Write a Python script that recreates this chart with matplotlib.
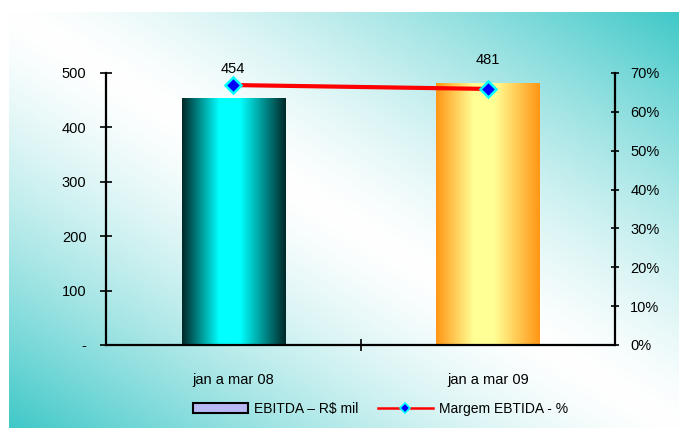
import numpy as np
import matplotlib.pyplot as plt
from matplotlib.patches import Patch
from matplotlib.lines import Line2D
from matplotlib.ticker import FuncFormatter

plt.rcParams['font.family'] = ['Liberation Sans', 'DejaVu Sans']

# data
periodos = ['jan a mar 08', 'jan a mar 09']
ebitda = [454, 481]            # R$ mil
margem = [66.9, 65.9]          # %

W, H = 679, 428
fig = plt.figure(figsize=(W / 100, H / 100), dpi=100, facecolor='white')

# diagonal gradient background (teal corners top-right / bottom-left)
bg = fig.add_axes([9 / W, 0, 1 - 9 / W, 1 - 12 / H], zorder=-5)
u, v = np.meshgrid(np.linspace(0, 1, 400), np.linspace(0, 1, 300))
d = np.clip(np.abs(u - v), 0, 1) ** 1.4
teal = np.array([64, 200, 200]) / 255.0
img = 1 - d[..., None] * (1 - teal)
bg.imshow(img, aspect='auto', extent=[0, 1, 1, 0])
bg.axis('off')

ax = fig.add_axes([106 / W, 1 - 345 / H, 509 / W, 272 / H])
ax.set_facecolor('none')

x = np.arange(len(periodos))
bars = ax.bar(x, ebitda, width=0.405, color='none', edgecolor='none')


def grad_fill(patch, c_edge, c_mid, pos=0.45):
    c_edge = np.array(c_edge) / 255.0
    c_mid = np.array(c_mid) / 255.0
    t = np.linspace(0, 1, 200)
    w = np.where(t < pos, t / pos, (1 - t) / (1 - pos))
    w = np.clip(w * 1.25, 0, 1)
    row = c_edge[None, :] * (1 - w[:, None]) + c_mid[None, :] * w[:, None]
    b = patch.get_bbox()
    im = ax.imshow(row[None, :, :], aspect='auto',
                   extent=[b.x0, b.x1, b.y0, b.y1], zorder=2)
    im.set_clip_path(patch)


grad_fill(bars[0], (0, 40, 40), (0, 255, 255))
grad_fill(bars[1], (255, 150, 20), (255, 255, 150))

fs = 10.5
ax.set_xlim(-0.5, 1.5)
ax.set_ylim(0, 500)
ax.set_yticks(range(0, 501, 100))
ax.yaxis.set_major_formatter(FuncFormatter(lambda v, p: '-' if v == 0 else f'{v:.0f}'))
ax.set_xticks(x)
ax.set_xticklabels(periodos)
ax.set_xticks([0.5], minor=True)
ax.tick_params(axis='x', which='major', length=0, pad=20, labelsize=fs)
ax.tick_params(axis='x', which='minor', direction='inout', length=8, width=1.2)
ax.tick_params(axis='y', direction='inout', length=8, width=1.2, labelsize=fs, pad=10)
for s in ['top', 'right']:
    ax.spines[s].set_visible(False)
for s in ['left', 'bottom']:
    ax.spines[s].set_linewidth(1.6)

for xi, val, off in zip(x, ebitda, (16, 12)):
    ax.annotate(f'{val}', (xi, val), xytext=(0, off), textcoords='offset points',
                ha='center', va='bottom', fontsize=fs)

ax2 = ax.twinx()
ax2.set_ylim(0, 70)
ax2.set_yticks(range(0, 71, 10))
ax2.yaxis.set_major_formatter(FuncFormatter(lambda v, p: f'{v:.0f}%'))
ax2.plot(x, margem, color='red', lw=3, marker='D', ms=8,
         mfc='#0000ff', mec='#00ffff', mew=1.8, zorder=5)
ax2.tick_params(axis='y', direction='inout', length=6, width=1.2, labelsize=fs, pad=8)
for s in ['top', 'left', 'bottom']:
    ax2.spines[s].set_visible(False)
ax2.spines['right'].set_linewidth(1.6)
ax2.set_facecolor('none')

handles = [
    Patch(facecolor='#b8b8f4', edgecolor='black', linewidth=1.5, label='EBITDA – R$ mil'),
    Line2D([], [], color='red', lw=1.8, marker='D', ms=5, mfc='#0000ff',
           mec='#00ffff', mew=1.2, label='Margem EBTIDA - %'),
]
fig.legend(handles=handles, loc='center', bbox_to_anchor=(0.56, 1 - 409 / H),
           ncol=2, frameon=False, fontsize=10, handlelength=4.0, handleheight=0.7,
           columnspacing=1.4, handletextpad=0.4)

fig.savefig('out.png', dpi=100)
